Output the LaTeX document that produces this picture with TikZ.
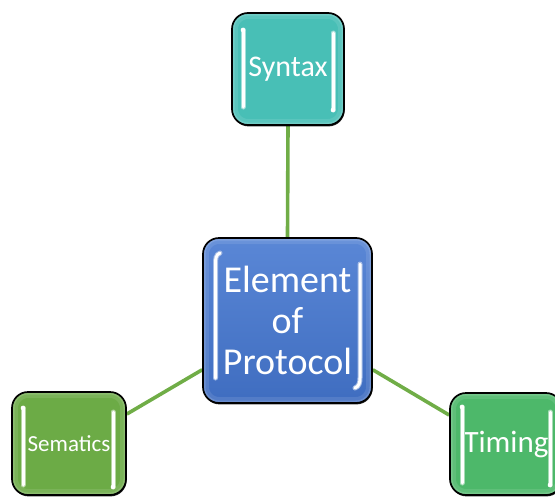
\documentclass[tikz,border=0pt]{standalone}
\usepackage{fontspec}
\setmainfont{Carlito}
\usetikzlibrary{shadows}
\definecolor{syntaxteal}{HTML}{48BFB6}
\definecolor{elemtop}{HTML}{5A87D6}
\definecolor{elembottom}{HTML}{3F6DC0}
\definecolor{elemmid}{HTML}{4C7ACB}
\definecolor{semgreen}{HTML}{6CAB46}
\definecolor{timegreen}{HTML}{4DB86A}
\definecolor{linkgreen}{HTML}{70AD47}
\pgfdeclarelayer{links}
\pgfsetlayers{links,main}
\tikzset{
  blockbox/.style={draw=black, line width=1.7pt, rounded corners=16pt,
    inner sep=0pt, text=white, align=center,
    drop shadow={shadow xshift=0.6pt, shadow yshift=-1.4pt, fill=black, opacity=0.85},
    path picture={
      \draw[white, opacity=0.10, line width=12pt, rounded corners=16pt]
        (path picture bounding box.north west) rectangle (path picture bounding box.south east);
      \draw[white, opacity=0.14, line width=5pt, rounded corners=16pt]
        (path picture bounding box.north west) rectangle (path picture bounding box.south east);
    }},
  link/.style={draw=linkgreen, line width=3.6pt},
  glow/.style={draw=white!50!#1, line width=5pt, line cap=round},
  gleam/.style={draw=white, line width=3pt, line cap=round},
  gleamdot/.style={fill=white},
}
\begin{document}
\begin{tikzpicture}[x=1pt,y=-1pt]
\clip (0,0) rectangle (555,501);

% the four blocks
\node[blockbox, fill=syntaxteal, minimum width=112pt, minimum height=112pt,
      font=\fontsize{30}{36}\selectfont] (syntax) at (288,69)
      {\raisebox{-3pt}{Syntax}};
\node[blockbox, top color=elemtop, bottom color=elembottom,
      minimum width=169pt, minimum height=165pt,
      font=\fontsize{38}{41}\selectfont] (element) at (287.5,320.5)
      {Element\\of\\Protocol};
\node[blockbox, fill=semgreen, minimum width=114pt, minimum height=103pt,
      font=\fontsize{23}{28}\selectfont] (sematics) at (69,443.5)
      {\raisebox{-5pt}{Sematics}};
\node[blockbox, fill=timegreen, minimum width=112pt, minimum height=102pt,
      font=\fontsize{31}{36}\selectfont] (timing) at (506,444)
      {\raisebox{-4pt}{Timing}};

% connectors, drawn beneath the blocks
\begin{pgfonlayer}{links}
  \draw[link] (syntax.south) -- (element.north);
  \draw[link] (element.210) -- (sematics.27);
  \draw[link] (element.330) -- (timing.153);
\end{pgfonlayer}

% glossy highlight strips
\draw[glow=syntaxteal] (243,30) -- (243,107) (333,33) -- (333,110);
\draw[gleam] (243,30) -- (243,107) (333,33) -- (333,110);
\draw[glow=semgreen] (23,408) -- (23,485) (113,412) -- (113,487);
\draw[gleam] (23,408) -- (23,485) (113,412) -- (113,487);
\draw[glow=timegreen] (462,407) -- (462,483) (550,412) -- (550,485);
\draw[gleam] (462,407) -- (462,483) (550,412) -- (550,485);
\fill[gleamdot] (243,30) circle (2.3pt) (333,110) circle (2.3pt)
  (23,408) circle (2.3pt) (113,487) circle (2.3pt)
  (462,407) circle (2.3pt) (550,485) circle (2.3pt);

% curved strips on the central block
\draw[glow=elemmid] (220,253) to[out=200,in=90] (215.5,264) -- (215.5,378);
\draw[gleam] (220,253) to[out=200,in=90] (215.5,264) -- (215.5,378);
\draw[glow=elemmid] (360,264) -- (360,378) to[out=270,in=20] (355,388);
\draw[gleam] (360,264) -- (360,378) to[out=270,in=20] (355,388);
\end{tikzpicture}
\end{document}
